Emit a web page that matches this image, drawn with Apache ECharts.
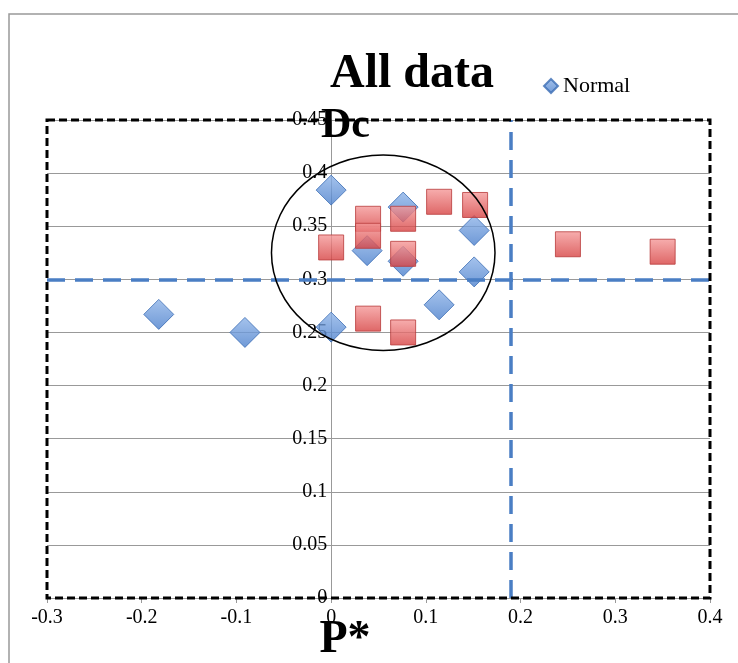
<!DOCTYPE html>
<html><head><meta charset="utf-8">
<script src="https://cdn.jsdelivr.net/npm/echarts@6/dist/echarts.min.js"></script>
<style>html,body{margin:0;padding:0;background:#fff}#c{width:738px;height:663px}</style>
</head><body><div id="c"></div>
<script>
let normal_pts = [[-0.182, 0.267], [-0.091, 0.250], [0, 0.384], [0, 0.255], [0.038, 0.327],
    [0.076, 0.368], [0.076, 0.317], [0.114, 0.276], [0.151, 0.346], [0.151, 0.307]];
let other_pts = [[0, 0.330], [0.039, 0.357], [0.039, 0.341], [0.076, 0.357], [0.076, 0.324],
    [0.114, 0.373], [0.152, 0.370], [0.039, 0.263], [0.076, 0.250], [0.25, 0.333], [0.35, 0.326]];
let h_ref = 0.3;
let v_ref = 0.188;
let ellipse_center = [0.055, 0.325];
let ellipse_radius = [0.118, 0.092];

let chart = echarts.init(document.getElementById('c'));
let serif = 'Liberation Serif';
let grid_w = 738 - 47 - 28;
let option = {
    animation: false,
    title: [{
        text: 'All data', left: 407, top: 46, textAlign: 'center',
        textStyle: {fontFamily: serif, fontSize: 48, fontWeight: 900, color: '#000'}
    }, {
        text: 'Dc', left: 316, top: 100,
        textStyle: {fontFamily: serif, fontSize: 42, fontWeight: 900, color: '#000'}
    }, {
        text: 'P*', left: 340, top: 612, textAlign: 'center',
        textStyle: {fontFamily: serif, fontSize: 46, fontWeight: 900, color: '#000'}
    }],
    legend: {
        data: [{name: 'Normal', icon: 'diamond'}], left: 538, top: 70, itemWidth: 14, itemHeight: 14,
        itemGap: 4, textStyle: {fontFamily: serif, fontSize: 22, color: '#000'}
    },
    grid: {left: 47, right: 28, top: 120, bottom: 65, show: false, outerBoundsMode: 'none'},
    xAxis: {
        type: 'value', min: -0.3, max: 0.4, interval: 0.1,
        axisLine: {onZero: false, lineStyle: {color: '#999'}},
        axisTick: {show: true, length: 5, lineStyle: {color: '#999'}},
        splitLine: {show: false},
        axisLabel: {fontFamily: serif, fontSize: 20, color: '#000', margin: 10}
    },
    yAxis: {
        type: 'value', min: 0, max: 0.45, interval: 0.05,
        offset: -grid_w * 0.3 / 0.7,
        axisLine: {show: true, onZero: false, lineStyle: {color: '#999'}},
        axisTick: {show: true, length: 5, lineStyle: {color: '#999'}},
        splitLine: {show: true, lineStyle: {color: '#999', width: 1.2}},
        axisLabel: {fontFamily: serif, fontSize: 20, color: '#000', margin: 4,
            formatter: v => String(+v.toFixed(2))}
    },
    series: [{
        name: 'Normal', type: 'scatter', data: normal_pts, symbol: 'diamond', symbolSize: 30, z: 3,
        itemStyle: {color: {type: 'linear', x: 0, y: 0, x2: 0, y2: 1,
            colorStops: [{offset: 0, color: '#8fb4e8'}, {offset: 1, color: '#4a7fcc'}]},
            borderColor: '#3b6db4', borderWidth: 1}
    }, {
        name: 'Other', type: 'scatter', data: other_pts, symbol: 'rect', symbolSize: 25, z: 4,
        itemStyle: {color: {type: 'linear', x: 0, y: 0, x2: 0, y2: 1,
            colorStops: [{offset: 0, color: '#f59a9a'}, {offset: 1, color: '#d64040'}]},
            borderColor: '#b83a3a', borderWidth: 1},
        markLine: {
            silent: true, symbol: 'none', label: {show: false},
            lineStyle: {color: '#4a7ec4', width: 3.5, type: [18, 10]},
            data: [{yAxis: h_ref}, {xAxis: v_ref}]
        }
    }]
};
chart.setOption(option);

let p0 = chart.convertToPixel({gridIndex: 0}, [-0.3, 0.45]);
let p1 = chart.convertToPixel({gridIndex: 0}, [0.4, 0]);
let pc = chart.convertToPixel({gridIndex: 0}, ellipse_center);
let pr = chart.convertToPixel({gridIndex: 0}, [ellipse_center[0] + ellipse_radius[0], ellipse_center[1] + ellipse_radius[1]]);
chart.setOption({
    graphic: [{
        type: 'rect', shape: {x: 9, y: 14, width: 740, height: 660},
        style: {fill: 'none', stroke: '#999', lineWidth: 1.5}, silent: true
    }, {
        type: 'rect', shape: {x: p0[0], y: p0[1], width: p1[0] - p0[0], height: p1[1] - p0[1]},
        style: {fill: 'none', stroke: '#000', lineWidth: 3, lineDash: [8, 4]}, z: 10, silent: true
    }, {
        type: 'ellipse', shape: {cx: pc[0], cy: pc[1], rx: pr[0] - pc[0], ry: pc[1] - pr[1]},
        style: {fill: 'none', stroke: '#000', lineWidth: 1.5}, z: 10, silent: true
    }]
});
</script></body></html>
